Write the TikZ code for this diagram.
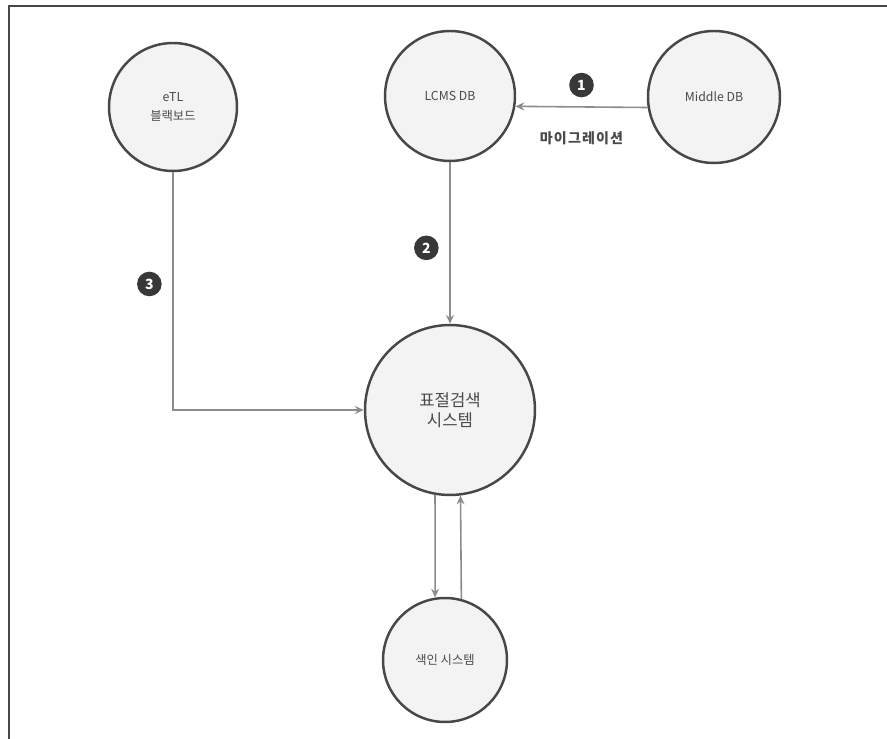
\documentclass[tikz,border=0pt]{standalone}
\usepackage{fontspec}
\setmainfont{Noto Sans CJK KR}
\usetikzlibrary{positioning,arrows.meta}
\definecolor{rim}{HTML}{474747}
\definecolor{disc}{HTML}{F3F3F3}
\definecolor{wire}{HTML}{8C8C8C}
\definecolor{ink}{HTML}{4A4A4A}
\definecolor{dot}{HTML}{383838}

\begin{document}
\begin{tikzpicture}[x=0.02cm,y=-0.02cm,
    sys/.style={shape=circle, draw=rim, line width=1.4pt, fill=disc, text=ink, align=center, inner sep=0pt, font=\fontsize{7}{11}\selectfont},
    flow/.style={draw=wire, line width=0.9pt, -{Stealth[length=5pt,width=4.5pt]}},
    badge/.style={shape=circle, fill=dot, text=white, inner sep=0pt, minimum size=14pt, font=\fontsize{8}{8}\selectfont\bfseries}]
    \useasboundingbox (0,0) rectangle (887,739);
    \draw[rim, line width=1.1pt] (9,739) -- (9,6) -- (887,6);

    \node[sys, minimum size=2.56cm] (etl) at (173,107) {eTL\\블랙보드};
    \node[sys, minimum size=2.6cm] (lcms) at (450,96) {LCMS DB};
    \node[sys, minimum size=2.64cm] (mid) at (714,97) {Middle DB};
    \node[sys, minimum size=3.4cm, font=\fontsize{9.5}{11.5}\selectfont] (plag) at (450,410) {표절검색\\시스템};
    \node[sys, minimum size=2.48cm] (index) at (445,660) {색인 시스템};

    \path (mid.189) edge[flow] node[badge, above=5pt] {1}
        node[below=10pt, text=ink, font=\fontsize{8}{10}\selectfont\bfseries\addfontfeatures{LetterSpace=8}] {마이그레이션} (lcms.351);
    \path (lcms) edge[flow] node[badge, left=6pt, pos=0.53] {2} (plag);
    \draw[flow] (etl) |- node[badge, left=6pt, pos=0.235] {3} (plag);
    \path (plag.260) edge[flow] (index.99);
    \path (index.75) edge[flow] (plag.277);
\end{tikzpicture}
\end{document}
